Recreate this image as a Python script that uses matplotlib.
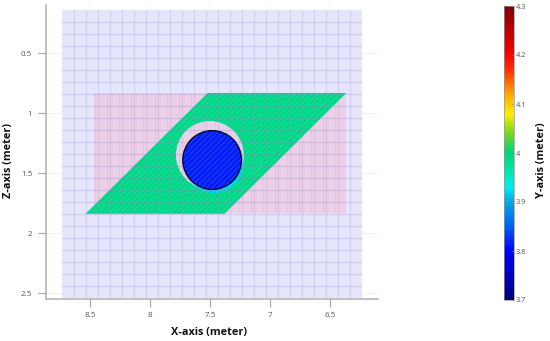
import numpy as np
import matplotlib
matplotlib.use('Agg')
import matplotlib.pyplot as plt
from matplotlib.patches import Polygon, Circle
from matplotlib.cm import ScalarMappable
from matplotlib.colors import Normalize, LinearSegmentedColormap

plt.rcParams['font.family'] = ['Open Sans', 'DejaVu Sans']
plt.rcParams['hatch.linewidth'] = 0.3

xTicks = [8.5, 8, 7.5, 7, 6.5]
zTicks = [0.5, 1, 1.5, 2, 2.5]
zTickLabels = ['0.5', '1', '1.5', '2', '2.5']
cbarTicks = [3.7, 3.8, 3.9, 4, 4.1, 4.2, 4.3]
cbarTickLabels = ['3.7', '3.8', '3.9', '4', '4.1', '4.2', '4.3']

# x, z corners
outerRect = [(8.733, 0.142), (6.23, 0.142), (6.23, 2.544), (8.733, 2.544)]
innerRect = [(8.47, 0.836), (6.367, 0.836), (6.367, 1.836), (8.47, 1.836)]
plane = [(7.52, 0.833), (6.365, 0.833), (7.38, 1.84), (8.54, 1.84)]
planeLevel = 3.99

holeCentre = (7.483, 1.392)
holeRadius = 0.245
holeLevel = 3.815
haloCentre = (7.5025, 1.35)
haloRadius = 0.283
rimCentre = (7.472, 1.41)
rimRadius = 0.257
rimLevel = 3.92

gridX = np.arange(8.633, 6.25, -0.1)
gridZ = np.arange(0.242, 2.54, 0.1)
gridX2 = np.arange(8.46, 6.37, -0.1)

# colour bar stops
cbarLevels = [3.7, 3.8, 3.85, 3.9, 3.93, 3.96, 4.0, 4.04, 4.08, 4.12, 4.17, 4.2, 4.3]
cbarColours = ['#00007f', '#0000ff', '#0060f0', '#00a8e8', '#00eef0', '#00e8b0', '#00d478', '#70d820',
               '#ffee00', '#ffa800', '#ff3000', '#ff0000', '#7f0000']

norm = Normalize(3.7, 4.3)
cmap = LinearSegmentedColormap.from_list('yAxis', [(float(norm(v)), c) for v, c in zip(cbarLevels, cbarColours)])

#%%
fig = plt.figure(figsize=(5.5, 3.41), dpi=100)
W, H = 550, 341
ax = fig.add_axes([45.5 / W, 1 - 299.3 / H, (378 - 45.5) / W, (299.3 - 5) / H])
ax.set_xlim(8.873, 6.1)
ax.set_ylim(2.5525, 0.1)

ax.grid(color='#f2f2f2', linewidth=0.8, zorder=0)
ax.set_axisbelow(True)

ax.add_patch(Polygon(outerRect, closed=True, facecolor='#e5e5fc', edgecolor='none', zorder=1))
ax.add_patch(Polygon(innerRect, closed=True, facecolor='#edd0e8', edgecolor='none', zorder=2))

ax.add_patch(Polygon(plane, closed=True, facecolor=cmap(norm(planeLevel)), edgecolor='#3ae4a4', hatch='//////',
                     linewidth=0, zorder=3))
ax.add_patch(Circle(rimCentre, rimRadius, facecolor=cmap(norm(rimLevel)), edgecolor='none', zorder=4))
ax.add_patch(Circle(haloCentre, haloRadius, facecolor='#e8d2e8', edgecolor='none', zorder=4.5))

# box grid
ax.vlines(gridX, 0.142, 2.544, color='#8f86c4', alpha=0.2, linewidth=0.9, zorder=5)
ax.hlines(gridZ, 8.733, 6.23, color='#8f86c4', alpha=0.27, linewidth=0.9, zorder=5)
ax.vlines(gridX2, 0.836, 1.836, color='#8f86c4', alpha=0.12, linewidth=0.9, zorder=5)

ax.add_patch(Circle(holeCentre, holeRadius, facecolor=cmap(norm(holeLevel)), edgecolor='#4a70f0', hatch='//////',
                    linewidth=0, zorder=6))
ax.add_patch(Circle(holeCentre, holeRadius, facecolor='none', edgecolor='#0a0a30', linewidth=1.0, zorder=7))

ax.set_xticks(xTicks)
ax.set_xticklabels([str(t) for t in xTicks])
ax.set_yticks(zTicks)
ax.set_yticklabels(zTickLabels)
ax.tick_params(length=6, width=0.9, color='#aaaaaa', labelcolor='#555555', labelsize=5.8, pad=3.5)
for side in ['top', 'right']:
    ax.spines[side].set_visible(False)
for side in ['left', 'bottom']:
    ax.spines[side].set_color('#b0b0b0')
    ax.spines[side].set_linewidth(1.1)

fig.text(209 / W, 1 - 332.5 / H, 'X-axis (meter)', fontsize=7.8, fontweight='bold', ha='center', va='center', color='#111111')
fig.text(8.5 / W, 1 - 160 / H, 'Z-axis (meter)', fontsize=7.8, fontweight='bold', rotation=90, ha='center', va='center', color='#111111')

#%% colour bar
cax = fig.add_axes([504 / W, 1 - 300 / H, 10 / W, 294 / H])
cbar = fig.colorbar(ScalarMappable(norm=norm, cmap=cmap), cax=cax)
cbar.set_ticks(cbarTicks)
cbar.set_ticklabels(cbarTickLabels)
cbar.outline.set_edgecolor('#999999')
cbar.outline.set_linewidth(0.5)
cax.tick_params(direction='in', length=2, width=0.5, color='#888888', labelcolor='#555555', labelsize=5.3, pad=1.5)
fig.text(541.5 / W, 1 - 160 / H, 'Y-axis (meter)', fontsize=7.8, fontweight='bold', rotation=90, ha='center', va='center', color='#111111')

fig.savefig('out.png', dpi=100)
